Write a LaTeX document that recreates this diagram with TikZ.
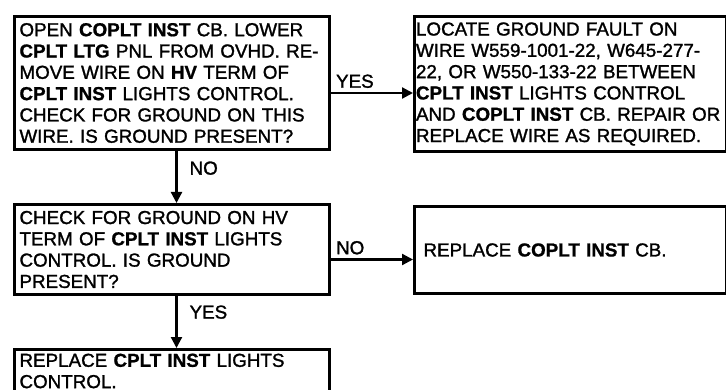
\documentclass[tikz,border=0pt]{standalone}
\usepackage{fontspec}
\setmainfont{Liberation Sans}[UprightFeatures={FakeBold=1.4},BoldFeatures={FakeBold=1}]
\usetikzlibrary{arrows.meta}

\begin{document}
\begin{tikzpicture}[x=1pt,y=1pt,>={Triangle[length=11pt,width=11pt]},
  box/.style={draw,line width=3pt,anchor=north west,align=left,inner xsep=5pt,inner ysep=2pt,
    font=\fontsize{18.8}{21.3}\selectfont},
  flow/.style={->,line width=2.2pt},
  lbl/.style={font=\fontsize{18.8}{21.3}\selectfont,inner sep=4pt}]
  \clip (0,0) rectangle (726,-390);
  \coordinate (A) at (13,-15);
  \coordinate (B) at (413,-15);
  \coordinate (C) at (13,-203);
  \coordinate (D) at (413,-205);
  \coordinate (E) at (13,-348);
  \node[box,text width=305pt,minimum height=133pt] (open) at (A)
    {OPEN \textbf{COPLT INST} CB. LOWER\\\textbf{CPLT LTG} PNL FROM OVHD. RE-\\MOVE WIRE ON \textbf{HV} TERM OF\\\textbf{CPLT INST} LIGHTS CONTROL.\\CHECK FOR GROUND ON THIS\\WIRE. IS GROUND PRESENT?};
  \node[box,inner xsep=1.5pt,text width=309pt,minimum height=135pt] (locate) at (B)
    {LOCATE GROUND FAULT ON\\WIRE W559-1001-22, W645-277-\\22, OR W550-133-22 BETWEEN\\\textbf{CPLT INST} LIGHTS CONTROL\\AND \textbf{COPLT INST} CB. REPAIR OR\\REPLACE WIRE AS REQUIRED.};
  \node[box,text width=305pt,minimum height=90pt] (check) at (C)
    {CHECK FOR GROUND ON HV\\TERM OF \textbf{CPLT INST} LIGHTS\\CONTROL. IS GROUND\\PRESENT?};
  \node[box,inner xsep=9pt,text width=294pt,minimum height=87pt] (repcb) at (D)
    {REPLACE \textbf{COPLT INST} CB.};
  \node[box,text width=305pt,minimum height=43pt] (replc) at (E)
    {REPLACE \textbf{CPLT INST} LIGHTS\\CONTROL.};
  % YES / NO branches
  \draw[flow] ([yshift=-10pt]open.east) -- ([yshift=-10pt]open.east -| locate.west)
    node[lbl,pos=0,above right] {YES};
  \draw[flow] ([xshift=4.5pt]open.south) -- ([xshift=4.5pt]open.south |- check.north)
    node[lbl,pos=.33,right=8pt] {NO};
  \draw[flow] ([yshift=-10pt]check.east) -- ([yshift=-10pt]check.east -| repcb.west)
    node[lbl,pos=0,above right] {NO};
  \draw[flow] ([xshift=4.5pt]check.south) -- ([xshift=4.5pt]check.south |- replc.north)
    node[lbl,pos=.31,right=8pt] {YES};
\end{tikzpicture}
\end{document}
